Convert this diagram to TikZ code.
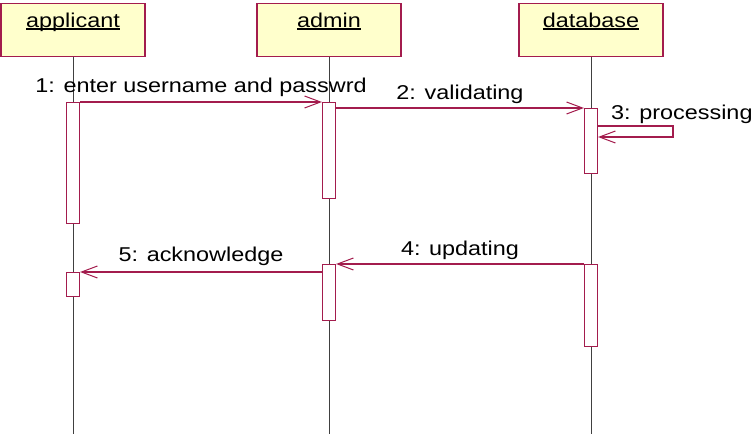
\documentclass[tikz,border=0pt]{standalone}
\usepackage{fontspec}
\setmainfont{Liberation Sans}[FakeStretch=1.17]
\usetikzlibrary{arrows.meta}
\definecolor{edge}{HTML}{A31C4D}
\definecolor{paper}{HTML}{FFFFCC}
\definecolor{lifec}{HTML}{404040}
\newcommand\objname[1]{\setbox0\hbox{#1}\rlap{\rule[-2.5pt]{\wd0}{1.2pt}}\box0}
\tikzset{
  obj/.style={draw=edge, fill=paper, line width=1.2pt, minimum width=144pt,
    inner sep=0pt, text height=23.5pt, text depth=29.5pt, font=\fontsize{20}{24}\selectfont},
  life/.style={draw=lifec, line width=0.8pt},
  act/.style={draw=edge, fill=white, line width=1.1pt, minimum width=13pt, inner sep=0pt, anchor=north},
  msg/.style={draw=edge, line width=1.1pt, -{Straight Barb[length=16pt,width=12pt,line width=1pt]}},
  lab/.style={text=black, font=\fontsize{20}{24}\selectfont, inner sep=0pt},
}

\begin{document}
\begin{tikzpicture}[x=1pt,y=-1pt]
  \useasboundingbox (0,0) rectangle (752,434);
  % objects
  \node[obj, anchor=north] (ap) at (73,3) {\objname{applicant}};
  \node[obj, anchor=north] (ad) at (329,3) {\objname{admin}};
  \node[obj, anchor=north] (db) at (591,3) {\objname{database}};
  % lifelines
  \coordinate (apend) at (73,434);
  \coordinate (adend) at (329,434);
  \coordinate (dbend) at (591,434);
  \draw[life] (ap.south) -- (apend);
  \draw[life] (ad.south) -- (adend);
  \draw[life] (db.south) -- (dbend);
  % activations
  \node[act, minimum height=121pt] (ap1) at (73,102) {};
  \node[act, minimum height=24pt] (ap2) at (73,272) {};
  \node[act, minimum height=96pt] (ad1) at (329,102) {};
  \node[act, minimum height=56pt] (ad2) at (329,264) {};
  \node[act, minimum height=65pt] (db1) at (591,108) {};
  \node[act, minimum height=82pt] (db2) at (591,264) {};
  % messages
  \draw[msg] (ap1.north east) -- node[lab, anchor=base, yshift=10pt] {1: enter username and passwrd} (ad1.north west);
  \draw[msg] (ad1.east |- db1.north) -- node[lab, anchor=base, yshift=9pt] {2: validating} (db1.north west);
  \coordinate (loopa) at (673,126);
  \coordinate (loopb) at (673,137);
  \draw[msg] (db1.east |- loopa) -- (loopa) -- (loopb) -- (db1.east |- loopb);
  \node[lab, anchor=base west] (l3) at (611,119) {3: processing};
  \draw[msg] (db2.north west) -- node[lab, anchor=base, yshift=9pt] {4: updating} (ad2.north east);
  \draw[msg] (ad2.west |- ap2.north) -- node[lab, anchor=base, yshift=11pt] {5: acknowledge} (ap2.north east);
\end{tikzpicture}
\end{document}
